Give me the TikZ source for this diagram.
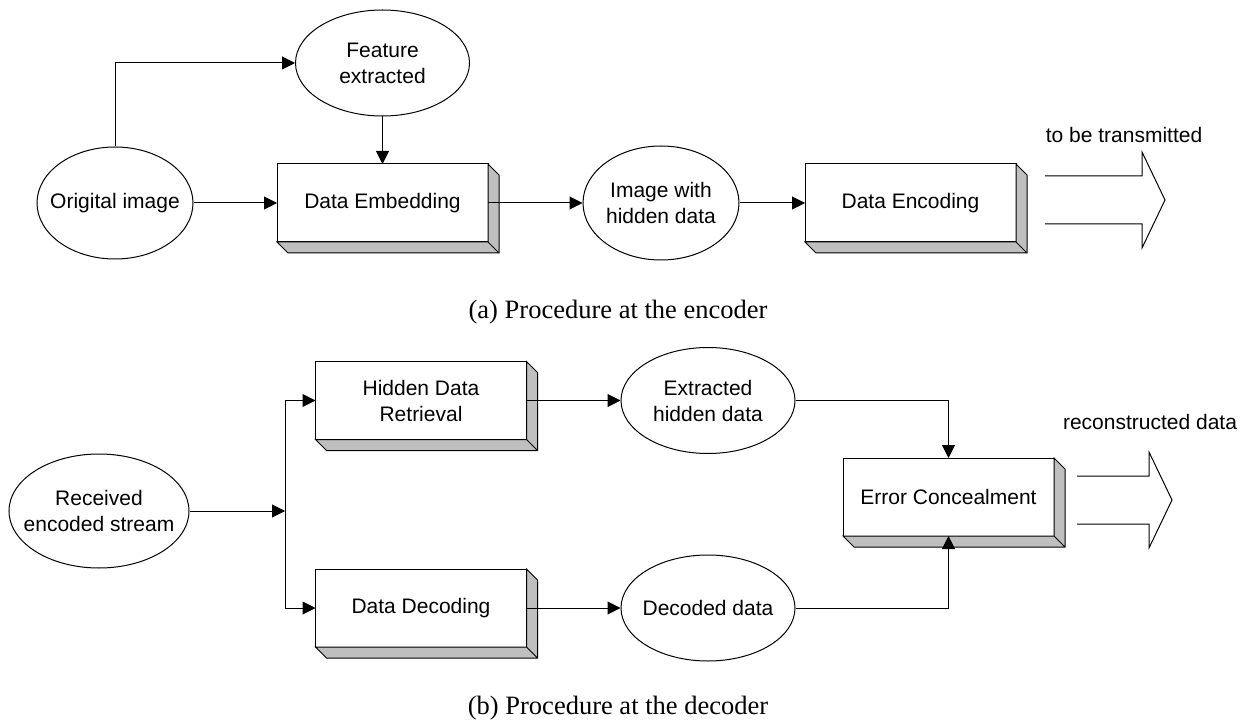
\documentclass[tikz,border=0pt]{standalone}
\usepackage{fontspec}
\setmainfont{Liberation Serif}
\setsansfont{Liberation Sans}
\usetikzlibrary{arrows.meta,calc,shapes.geometric}

\begin{document}
\begin{tikzpicture}[x=0.5pt,y=-0.5pt,line width=0.5pt,
  lbl/.style={font=\sffamily\fontsize{10.5}{13}\selectfont,align=center},
  blk/.style={lbl,draw,fill=white,minimum width=105.5pt,minimum height=39pt,inner sep=0pt,outer sep=0pt},
  ell/.style={lbl,draw,ellipse,inner xsep=-30pt,inner ysep=-10pt},
  flow/.style={-{Triangle[length=6.5pt,width=6.5pt]}},
  captext/.style={font=\fontsize{13.25}{16}\selectfont}]
 \useasboundingbox (0,0) rectangle (1242,727);
 % (a) encoder
 \node[ell,minimum width=78pt,minimum height=56pt] (orig) at (115,203) {Origital image};
 \node[ell,minimum width=87pt,minimum height=53pt] (feat) at (382.5,63) {Feature\\extracted};
 \node[blk] (embed) at (382.5,203) {Data Embedding};
 \node[ell,minimum width=78pt,minimum height=57pt] (imgh) at (661,203) {Image with\\hidden data};
 \node[blk] (encode) at (910.5,203) {Data Encoding};
 \node[lbl] (txa) at (1124,135) {to be transmitted};
 \node[captext] (capa) at (618,312) {(a) Procedure at the encoder};
 % (b) decoder
 \node[ell,minimum width=90pt,minimum height=57pt] (recv) at (99,511) {Received\\encoded stream};
 \coordinate (split) at (285,511);
 \node[blk] (hidden) at (421,400.5) {Hidden Data\\Retrieval};
 \node[blk] (decode) at (421,608) {Data Decoding};
 \node[ell,minimum width=87pt,minimum height=53pt] (extr) at (708,400.5) {Extracted\\hidden data};
 \node[ell,minimum width=87pt,minimum height=53pt] (decd) at (708,608) {Decoded data};
 \node[blk] (err) at (948.5,497) {Error Concealment};
 \node[lbl] (txb) at (1150,422) {reconstructed data};
 \node[captext] (capb) at (618,708) {(b) Procedure at the decoder};
 % box depth
 \foreach \b in {embed,encode,hidden,decode,err}
  \draw[fill=black!25] (\b.north east) -- ++(5.5pt,-5.5pt) |- ($(\b.south west)+(5.5pt,-5.5pt)$) -- (\b.south west) -- (\b.south east) -- cycle
   (\b.south east) -- ++(5.5pt,-5.5pt);
 % connectors
 \draw[flow] (orig) -- (embed);
 \draw[flow] (orig.north) |- (feat);
 \draw[flow] (feat) -- (embed);
 \draw[flow] (embed) -- (imgh);
 \draw[flow] (imgh) -- (encode);
 \draw[flow] (recv) -- (split);
 \draw[flow] (split) |- (hidden);
 \draw[flow] (split) |- (decode);
 \draw[flow] (hidden) -- (extr);
 \draw[flow] (decode) -- (decd);
 \draw[flow] (extr) -| (err);
 \draw[flow] (decd) -| (err);
 % outlet arrows
 \foreach \ax/\ay/\al in {1045/200/97,1077/500/72}
  \draw (\ax,\ay-24) -- ++(\al,0) -- ++(0,-24) -- ++(23,48) -- ++(-23,48) -- ++(0,-24) -- ++(-\al,0);
\end{tikzpicture}
\end{document}
